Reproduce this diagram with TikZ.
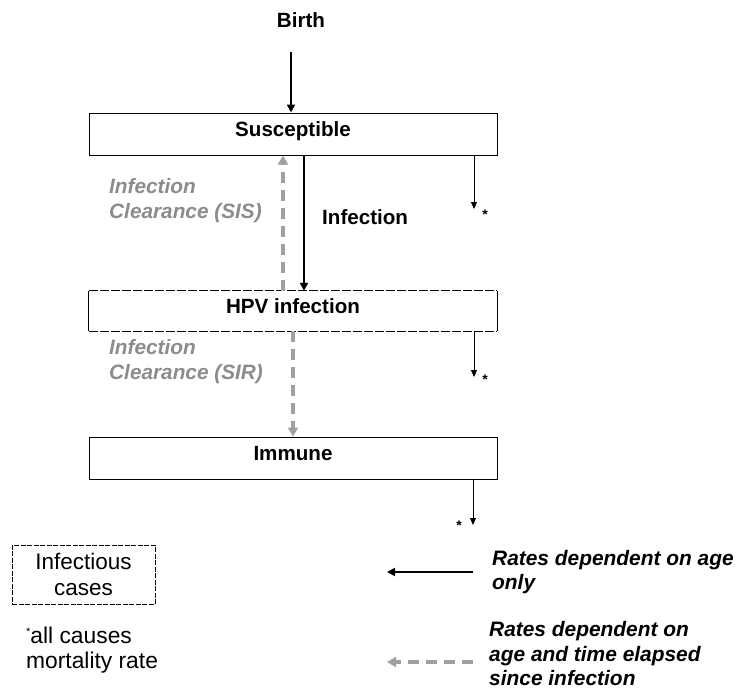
\documentclass[tikz,border=0pt]{standalone}
\usepackage{fontspec}
\setmainfont{Liberation Sans}
\usetikzlibrary{arrows.meta}
\definecolor{gtext}{RGB}{140,140,140}
\definecolor{garrow}{RGB}{160,160,160}
\tikzset{
  box/.style={minimum width=408pt,inner sep=0pt,text height=15pt,text depth=9.5pt,font=\fontsize{20.6}{24}\selectfont\bfseries},
  lbl/.style={inner sep=0pt,font=\fontsize{20.6}{25}\selectfont\bfseries,align=left},
  glbl/.style={lbl,text=gtext,font=\fontsize{20.8}{25}\selectfont\bfseries\itshape},
  mainarrow/.style={line width=2pt,-{Triangle[length=8pt,width=8pt]}},
  grayarrow/.style={line width=3.5pt,draw=garrow,dash pattern=on 11pt off 7pt,-{Triangle[length=9pt,width=10pt]}},
  mortarrow/.style={line width=1pt,-{Triangle[length=7pt,width=6pt]}},
  star/.style={inner sep=0pt,font=\fontsize{14}{14}\selectfont\bfseries},
}
\begin{document}
\begin{tikzpicture}[x=1pt,y=-1pt]
\useasboundingbox (0,0) rectangle (738,693);
% title
\node[lbl] (birth) at (301,20) {Birth};
% boxes
\node[box,draw,line width=1pt,minimum height=42pt] (sus) at (293,134) {Susceptible};
\node[box,minimum height=40pt] (hpv) at (293,311) {HPV infection};
\draw[line width=1pt,dash pattern=on 9pt off 2pt] (hpv.north west) -- (hpv.north east);
\draw[line width=1pt,dash pattern=on 9pt off 2pt] (hpv.south west) -- (hpv.south east);
\draw[line width=1pt] (hpv.north west) -- (hpv.south west);
\draw[line width=1pt] (hpv.north east) -- (hpv.south east);
\node[box,draw,line width=1pt,minimum height=42pt] (imm) at (293,458) {Immune};
% main arrows
\coordinate (birthtop) at (291,52);
\draw[mainarrow] (birthtop) -- (sus.north -| birthtop);
\coordinate (infx) at (304,0);
\draw[mainarrow] (sus.south -| infx) -- (hpv.north -| infx);
\node[lbl,anchor=west] (inflbl) at (322,217) {Infection};
\coordinate (sisx) at (283,0);
\draw[grayarrow] (hpv.north -| sisx) -- (sus.south -| sisx);
\node[glbl,anchor=west] (sislbl) at (109,201) {Infection\\Clearance (SIS)};
\coordinate (sirx) at (293,0);
\draw[grayarrow] (hpv.south -| sirx) -- (imm.north -| sirx);
\node[glbl,anchor=west] (sirlbl) at (109,362) {Infection\\Clearance (SIR)};
% mortality
\coordinate (m1) at (474,209);
\draw[mortarrow] (sus.south -| m1) -- (m1);
\node[star] (s1) at (485,215) {*};
\coordinate (m2) at (474,377);
\draw[mortarrow] (hpv.south -| m2) -- (m2);
\node[star] (s2) at (485,380) {*};
\coordinate (m3) at (473,525);
\draw[mortarrow] (imm.south -| m3) -- (m3);
\node[star] (s3) at (459,526) {*};
% legend
\node[draw,line width=1pt,dash pattern=on 5pt off 1.5pt,minimum width=143pt,minimum height=59pt,inner sep=0pt,align=center,font=\fontsize{22.5}{26}\selectfont] (inf) at (83.5,574.5) {Infectious\\cases};
\node[inner sep=0pt,anchor=west,align=left,font=\fontsize{22.8}{24.5}\selectfont] (note) at (26,650) {\raisebox{0.35em}{\fontsize{11}{11}\selectfont*}all causes\\mortality rate};
\coordinate (l1s) at (473,572);
\coordinate (l1e) at (387,572);
\draw[mainarrow] (l1s) -- (l1e);
\node[lbl,anchor=west,font=\fontsize{20.9}{24}\selectfont\bfseries\itshape] (r1) at (492,572) {Rates dependent on age\\only};
\coordinate (l2s) at (473,662);
\coordinate (l2e) at (387,662);
\draw[grayarrow] (l2s) -- (l2e);
\node[lbl,anchor=west,font=\fontsize{20.9}{24.5}\selectfont\bfseries\itshape] (r2) at (489,654) {Rates dependent on\\age and time elapsed\\since infection};
\end{tikzpicture}
\end{document}
